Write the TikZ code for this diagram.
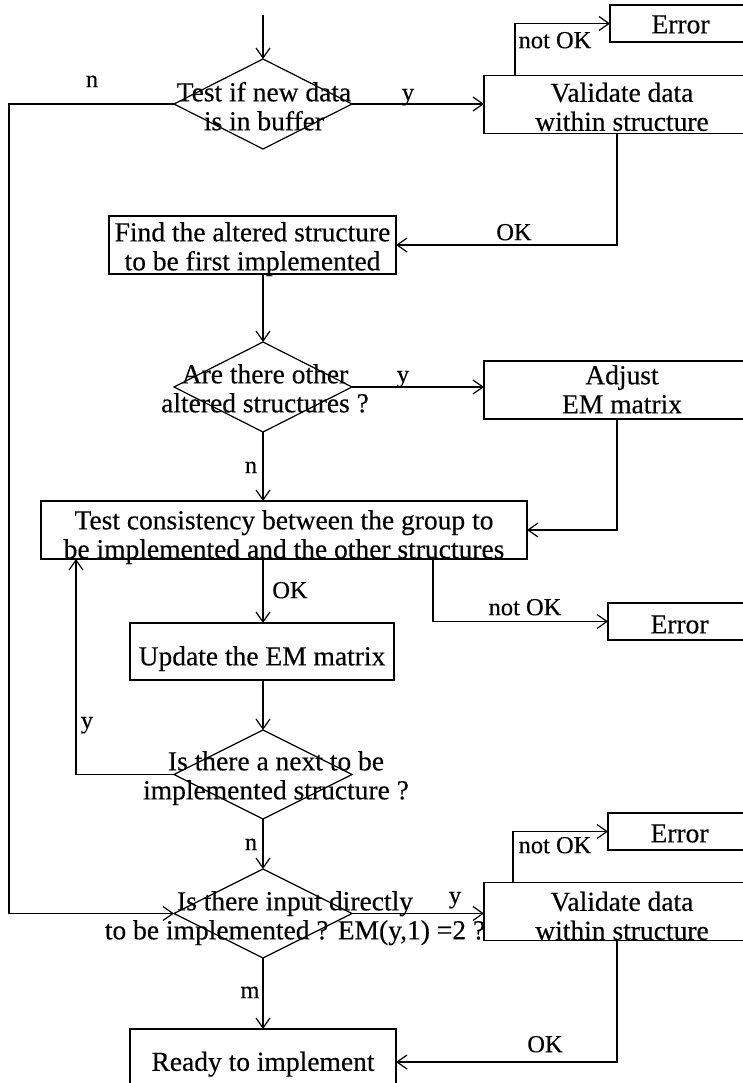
\documentclass[tikz,border=0pt]{standalone}
\usepackage{fontspec}
\setmainfont{Liberation Serif}
\newfontfamily\heavy{Liberation Serif}[FakeBold=0.3]
\usetikzlibrary{shapes.geometric,arrows.meta,calc}
\newcommand\stx[2][5pt]{\raisebox{-#1}[\height][\depth]{\begin{tabular}{@{}c@{}}#2\end{tabular}}}
\begin{document}
\begin{tikzpicture}[x=1pt,y=-1pt,
  every node/.style={inner sep=0pt, outer sep=0pt},
  box/.style={draw, line width=1.2pt, font=\heavy\fontsize{27.5}{29}\selectfont, align=center},
  dia/.style={draw, diamond, line width=1.2pt, minimum width=178pt, minimum height=90pt, inner sep=0pt},
  dtext/.style={font=\heavy\fontsize{27.5}{29}\selectfont},
  lab/.style={font=\heavy\fontsize{24.5}{26}\selectfont},
  conn/.style={line width=1.2pt},
  arr/.style={conn, -{Straight Barb[length=10pt,width=14pt]}}]
\useasboundingbox (0,0) rectangle (743,1083);
\fill[white] (0,0) rectangle (743,1083);

% boxes
\node[box, minimum width=141pt, minimum height=37pt] (err1) at (680.5,23.5) {\stx[4pt]{Error}};
\node[box, minimum width=276pt, minimum height=56pt] (val1) at (622,104.5) {\stx[6pt]{Validate data\\within structure}};
\node[dia] (d1) at (263,104) {};
\node[dtext] (t1) at (264,107) {\stx[3pt]{Test if new data\\is in buffer}};
\node[box, minimum width=287pt, minimum height=58pt] (find) at (252.5,245) {\stx[5pt]{Find the altered structure\\to be first implemented}};
\node[dia] (d2) at (263,387) {};
\node[dtext] (t2) at (265,389) {\stx[3pt]{Are there other\\altered structures ?}};
\node[box, minimum width=276pt, minimum height=56pt] (adj) at (622,390) {\stx[3pt]{Adjust\\EM matrix}};
\node[box, minimum width=486pt, minimum height=57pt] (cons) at (284,530) {\stx[8pt]{Test consistency between the group to\\be implemented and the other structures}};
\node[box, minimum width=143pt, minimum height=37pt] (err2) at (679.5,621.5) {\stx[6pt]{Error}};
\node[box, minimum width=264pt, minimum height=57pt] (upd) at (262,651.5) {\stx[8pt]{Update the EM matrix}};
\node[dia, minimum height=89pt] (d3) at (263,774.5) {};
\node[dtext] (t3) at (276,775) {\stx[4pt]{Is there a next to be\\implemented structure ?}};
\node[box, minimum width=143pt, minimum height=37pt] (err3) at (679.5,831.5) {\stx[5pt]{Error}};
\node[box, minimum width=276pt, minimum height=57pt] (val2) at (622,911.5) {\stx[8pt]{Validate data\\within structure}};
\node[dia, minimum height=89pt] (d4) at (263,913.5) {};
\node[dtext] (t4) at (295,915) {\stx[4pt]{Is there input directly\\to be implemented ? EM(y,1) =2 ?}};
\node[box, minimum width=266pt, minimum height=66pt] (ready) at (263,1062) {\stx[3pt]{Ready to implement}};

% connectors
\coordinate (start) at (263,15);
\draw[arr] (start) -- (d1.north);
\coordinate (nl) at (9,104);
\draw[arr] (d1.west) -- (nl) |- (d4.west);
\draw[arr] (d1.east) -- (d1.east -| val1.west);
\draw[arr] ([xshift=31pt]val1.north west) |- (err1.west);
\draw[arr] ([xshift=133pt]val1.south west) |- (find.east);
\draw[arr] (find.south -| d2.north) -- (d2.north);
\draw[arr] (d2.east) -- (d2.east -| adj.west);
\draw[arr] (d2.south) -- (d2.south |- cons.north);
\draw[arr] ([xshift=133pt]adj.south west) |- (cons.east);
\draw[arr] (d2.south |- cons.south) -- (d2.south |- upd.north);
\draw[arr] ([xshift=392pt]cons.south west) |- (err2.west);
\draw[arr] (upd.south -| d3.north) -- (d3.north);
\draw[arr] (d3.west) -| ([xshift=35pt]cons.south west);
\draw[arr] (d3.south) -- (d4.north);
\draw[arr] (d4.east) -- (d4.east -| val2.west);
\draw[arr] ([xshift=29pt]val2.north west) |- (err3.west);
\draw[arr] (d4.south) -- (ready.north);
\draw[arr] ([xshift=133pt]val2.south west) |- (ready.east);

% labels
\node[lab] (ln1) at (92,82) {\stx[0pt]{n}};
\node[lab] (ly1) at (408,95) {\stx[0pt]{y}};
\node[lab] (lno1) at (555,43) {\stx[0pt]{not OK}};
\node[lab] (lok1) at (514,235) {\stx[0pt]{OK}};
\node[lab] (ly2) at (403,377) {\stx[0pt]{y}};
\node[lab] (ln2) at (251,468) {\stx[0pt]{n}};
\node[lab] (lok2) at (290,593) {\stx[0pt]{OK}};
\node[lab] (lno2) at (525,610) {\stx[0pt]{not OK}};
\node[lab] (ly3) at (87,723) {\stx[0pt]{y}};
\node[lab] (ln3) at (251,845) {\stx[0pt]{n}};
\node[lab] (lno3) at (555,848) {\stx[0pt]{not OK}};
\node[lab] (ly4) at (455,898) {\stx[0pt]{y}};
\node[lab] (lm) at (250,993) {\stx[0pt]{m}};
\node[lab] (lok3) at (545,1047) {\stx[0pt]{OK}};
\end{tikzpicture}
\end{document}
